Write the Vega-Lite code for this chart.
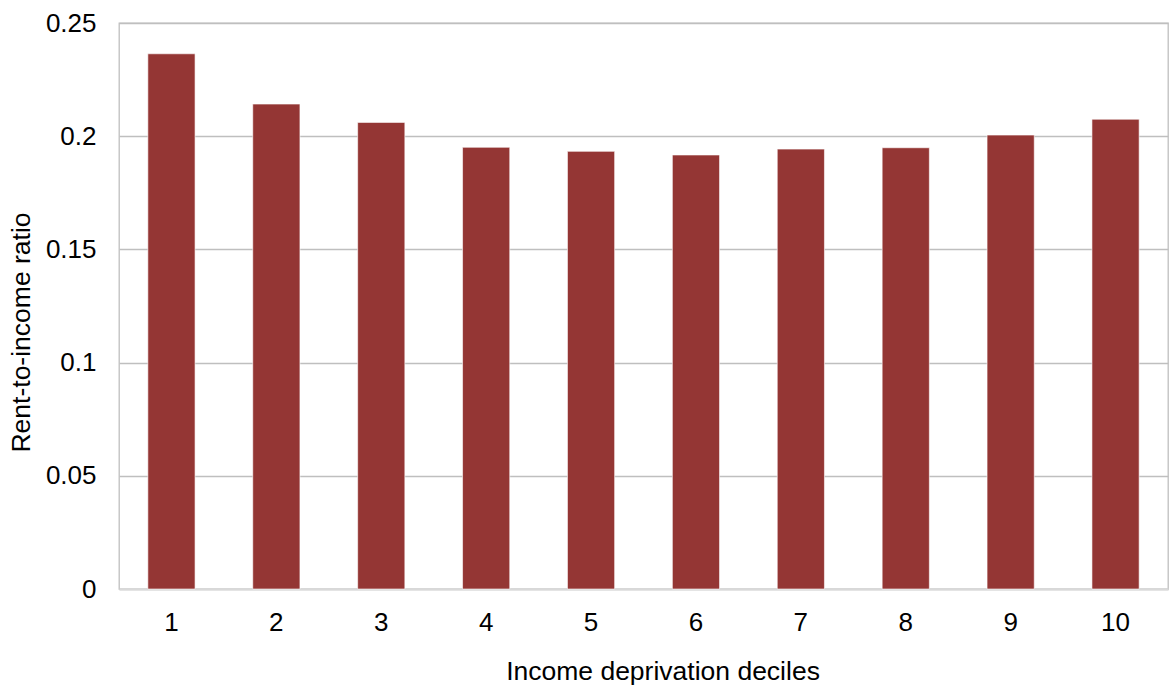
{
  "$schema": "https://vega.github.io/schema/vega-lite/v6.json",
  "autosize": "none",
  "width": 1049,
  "height": 566,
  "padding": {"left": 119, "top": 23, "right": 1, "bottom": 97},
  "background": "white",
  "data": {"values": [
    {"decile": "1", "ratio": 0.2364},
    {"decile": "2", "ratio": 0.2142},
    {"decile": "3", "ratio": 0.2061},
    {"decile": "4", "ratio": 0.1951},
    {"decile": "5", "ratio": 0.1933},
    {"decile": "6", "ratio": 0.1917},
    {"decile": "7", "ratio": 0.1943},
    {"decile": "8", "ratio": 0.1949},
    {"decile": "9", "ratio": 0.2005},
    {"decile": "10", "ratio": 0.2075}
  ]},
  "mark": {"type": "bar", "color": "#943634", "stroke": "#ffffff", "strokeOpacity": 0.6, "strokeWidth": 1},
  "encoding": {
    "x": {
      "field": "decile", "type": "ordinal", "sort": null,
      "scale": {"paddingInner": 0.55, "paddingOuter": 0.275},
      "axis": {"title": "Income deprivation deciles", "labelAngle": 0, "ticks": false,
               "domainColor": "#d9d9d9", "domainWidth": 2, "labelPadding": 20, "titlePadding": 23,
               "titleX": 543.5}
    },
    "y": {
      "field": "ratio", "type": "quantitative",
      "scale": {"domain": [0, 0.25], "nice": false},
      "axis": {"title": "Rent-to-income ratio", "values": [0, 0.05, 0.1, 0.15, 0.2, 0.25],
               "format": "~g", "ticks": false, "domain": false, "labelPadding": 23,
               "gridColor": "#bfbfbf", "gridWidth": 1.3, "titlePadding": 9.5, "titleY": 309}
    }
  },
  "config": {
    "view": {"stroke": "#bfbfbf", "strokeWidth": 1.3},
    "axis": {
      "labelFont": "Liberation Sans", "titleFont": "Liberation Sans",
      "labelFontSize": 26, "titleFontSize": 26.5, "labelColor": "#000000", "titleColor": "#000000",
      "titleFontWeight": "normal"
    }
  }
}
